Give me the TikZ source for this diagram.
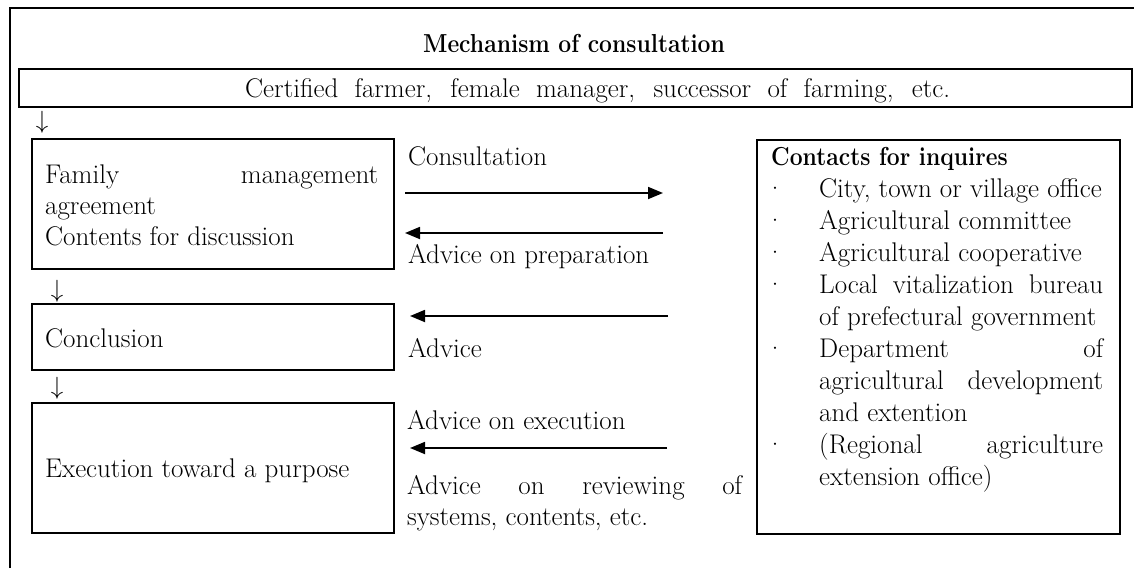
\documentclass[tikz,border=0pt]{standalone}
\usepackage{graphicx}
\usetikzlibrary{arrows.meta}
\newcommand\fs{\fontsize{27}{32}\selectfont}
\newcommand\bfs{\fontsize{26}{32}\selectfont\bfseries}
\newcommand\bsq[1]{\scalebox{0.88}[1]{#1}}
\begin{document}
\begin{tikzpicture}[x=1pt,y=-1pt,
  box/.style={draw, line width=1.6pt, rectangle, inner sep=0pt, anchor=north west},
  txt/.style={anchor=base west, inner sep=0pt, font=\fs},
  ctxt/.style={anchor=base, inner sep=0pt, font=\fs},
  downarr/.style={inner sep=0pt, font=\fontsize{24.5}{32}\selectfont},
  arr/.style={line width=1.8pt, -{Triangle[length=15pt,width=12pt]}}]
\useasboundingbox (0,0) rectangle (1134,568);
% outer frame (top and left only)
\draw[line width=2pt] (10,568) -- (10,8) -- (1134,8);
% title
\node[ctxt, font=\bfs] (title) at (574,52) {\bsq{Mechanism of consultation}};
% top box
\node[box, minimum width=1113pt, minimum height=38pt] (b0) at (18,68) {};
\node[txt] (cert) at (245,97) {\makebox[705pt][s]{Certified farmer, female manager, successor of farming, etc.}};
% left boxes
\node[box, minimum width=362pt, minimum height=130pt] (b1) at (31,138) {};
\node[box, minimum width=362pt, minimum height=66pt] (b2) at (31,303) {};
\node[box, minimum width=362pt, minimum height=130pt] (b3) at (31,402) {};
% down arrows
\node[downarr] (d1) at (42,122) {$\downarrow$};
\node[downarr] (d2) at (57,291) {$\downarrow$};
\node[downarr] (d3) at (57,388) {$\downarrow$};
% box texts
\node[txt] (f1) at (45,183) {\makebox[333pt][s]{Family management}};
\node[txt] (f2) at (45,214) {agreement};
\node[txt] (f3) at (45,245) {Contents for discussion};
\node[txt] (conc) at (45,347) {Conclusion};
\node[txt] (exec) at (45,477) {Execution toward a purpose};
% right box
\node[box, minimum width=363pt, minimum height=394pt] (rb) at (756,139) {};
\node[txt, font=\bfs] (contacts) at (771,165) {\bsq{Contacts for inquires}};
\node[ctxt] (p1) at (775,197) {·};
\node[txt] (r1) at (819,197) {City, town or village office};
\node[ctxt] (p2) at (775,229) {·};
\node[txt] (r2) at (819,229) {Agricultural committee};
\node[ctxt] (p3) at (775,261) {·};
\node[txt] (r3) at (819,261) {Agricultural cooperative};
\node[ctxt] (p4) at (775,293) {·};
\node[txt] (r4) at (819,293) {\makebox[284pt][s]{Local vitalization bureau}};
\node[txt] (r5) at (819,325) {of prefectural government};
\node[ctxt] (p5) at (775,357) {·};
\node[txt] (r6) at (819,357) {\makebox[284pt][s]{Department of}};
\node[txt] (r7) at (819,389) {\makebox[284pt][s]{agricultural development}};
\node[txt] (r8) at (819,421) {and extention};
\node[ctxt] (p6) at (775,453) {·};
\node[txt] (r9) at (819,453) {\makebox[284pt][s]{(Regional agriculture}};
\node[txt] (r10) at (819,485) {extension office)};
% arrow labels
\node[txt] (l1) at (408,165) {Consultation};
\node[txt] (l2) at (408,263) {Advice on preparation};
\node[txt] (l3) at (408,357) {Advice};
\node[txt] (l4) at (407,429) {Advice on execution};
\node[txt] (l5) at (407,494) {\makebox[335pt][s]{Advice on reviewing of}};
\node[txt] (l6) at (407,525) {systems, contents, etc.};
% arrows
\coordinate (a1s) at (405,193); \coordinate (a1e) at (663,193);
\coordinate (a2s) at (663,233); \coordinate (a2e) at (405,233);
\coordinate (a3s) at (668,316); \coordinate (a3e) at (410,316);
\coordinate (a4s) at (667,448); \coordinate (a4e) at (410,448);
\draw[arr] (a1s) -- (a1e);
\draw[arr] (a2s) -- (a2e);
\draw[arr] (a3s) -- (a3e);
\draw[arr] (a4s) -- (a4e);
\end{tikzpicture}
\end{document}
